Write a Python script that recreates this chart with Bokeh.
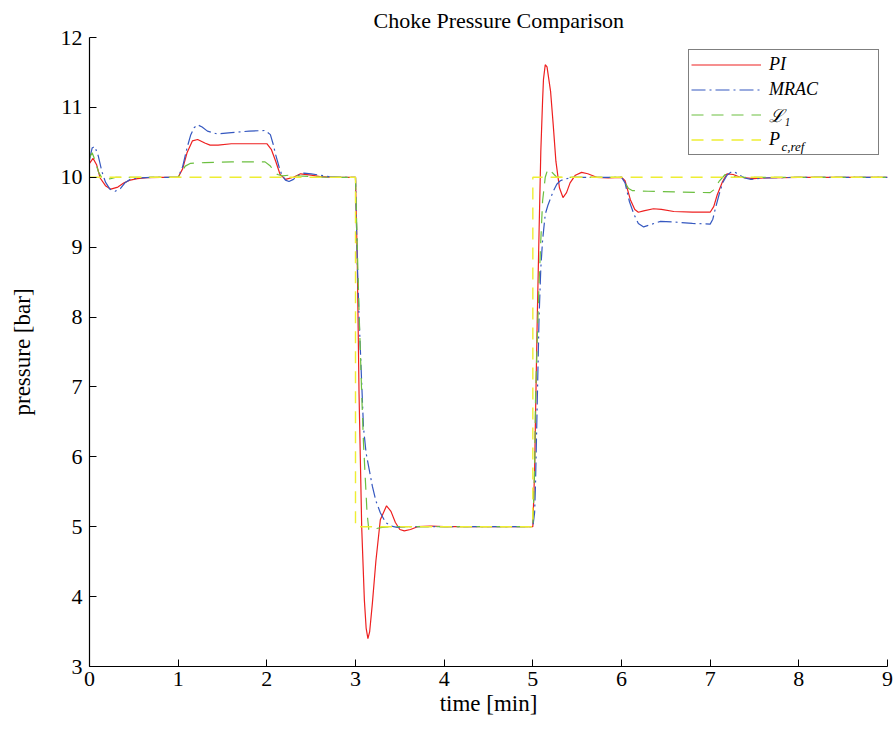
from bokeh.plotting import figure
from bokeh.models import Legend, LegendItem, Label, Range1d, FixedTicker
from bokeh.embed import file_html
from bokeh.resources import INLINE

# ---- data ----
pi_t = [0, 0.04, 0.08, 0.12, 0.18, 0.24, 0.32, 0.39, 0.46, 0.54, 0.65, 0.8, 1.0,
        1.05, 1.10, 1.16, 1.22, 1.30, 1.36, 1.45, 1.6, 1.74, 1.9, 2.0, 2.05, 2.10,
        2.15, 2.21, 2.3, 2.38, 2.5, 2.6, 2.75, 3.0, 3.02, 3.04, 3.07, 3.10, 3.12,
        3.14, 3.16, 3.19, 3.23, 3.28, 3.35, 3.40, 3.45, 3.50, 3.55, 3.62, 3.70,
        3.85, 4.0, 5.0, 5.02, 5.03, 5.05, 5.07, 5.09, 5.11, 5.12, 5.14, 5.16, 5.20,
        5.23, 5.26, 5.30, 5.34, 5.38, 5.42, 5.48, 5.55, 5.62, 5.72, 5.85, 6.0,
        6.04, 6.10, 6.15, 6.19, 6.25, 6.36, 6.45, 6.59, 6.8, 7.0, 7.04, 7.08, 7.14,
        7.19, 7.26, 7.34, 7.49, 7.6, 8.0, 9.0]
pi_v = [10.20, 10.27, 10.18, 9.99, 9.88, 9.83, 9.86, 9.92, 9.96, 9.98, 9.995, 10.0, 10.0,
        10.12, 10.35, 10.52, 10.54, 10.49, 10.46, 10.46, 10.48, 10.48, 10.48, 10.48, 10.40, 10.23,
        10.04, 9.97, 10.0, 10.05, 10.03, 10.01, 10.0, 10.0, 8.8, 6.9, 4.99, 3.95, 3.55,
        3.40, 3.50, 3.90, 4.51, 5.10, 5.30, 5.22, 5.06, 4.96, 4.94, 4.96, 5.0,
        5.01, 5.0, 5.0, 5.8, 6.56, 7.99, 9.2, 10.37, 11.1, 11.4, 11.61, 11.58, 11.23,
        10.75, 10.23, 9.85, 9.71, 9.78, 9.92, 10.03, 10.07, 10.05, 10.0, 9.99, 10.0,
        9.95, 9.68, 9.54, 9.50, 9.52, 9.55, 9.54, 9.51, 9.50, 9.50, 9.58, 9.75, 9.94,
        10.05, 10.04, 10.0, 9.98, 9.99, 10.0, 10.0]

mrac_t = [0, 0.03, 0.06, 0.10, 0.14, 0.18, 0.23, 0.29, 0.35, 0.40, 0.46, 0.55, 0.7, 1.0,
          1.05, 1.10, 1.14, 1.18, 1.22, 1.27, 1.33, 1.44, 1.6, 1.8, 1.98, 2.04, 2.07,
          2.10, 2.14, 2.17, 2.21, 2.25, 2.30, 2.36, 2.42, 2.5, 2.6, 2.7, 2.85, 3.0,
          3.02, 3.04, 3.06, 3.09, 3.12, 3.15, 3.19, 3.23, 3.28, 3.34, 3.40, 3.47, 3.6,
          5.0, 5.02, 5.03, 5.05, 5.07, 5.09, 5.11, 5.14, 5.17, 5.20, 5.23, 5.27, 5.31,
          5.35, 5.45, 6.0, 6.04, 6.09, 6.14, 6.19, 6.25, 6.32, 6.44, 6.6, 6.8, 7.0,
          7.03, 7.06, 7.10, 7.14, 7.19, 7.23, 7.27, 7.32, 7.39, 7.46, 7.6, 8.0, 9.0]
mrac_v = [10.25, 10.42, 10.44, 10.30, 10.08, 9.93, 9.83, 9.80, 9.84, 9.92, 9.97, 9.99, 10.0, 10.0,
          10.15, 10.42, 10.60, 10.71, 10.75, 10.72, 10.66, 10.62, 10.64, 10.66, 10.67, 10.61, 10.48,
          10.32, 10.14, 10.03, 9.96, 9.94, 9.97, 10.03, 10.06, 10.05, 10.03, 10.01, 10.0, 10.0,
          8.8, 8.0, 7.37, 6.42, 6.05, 5.85, 5.58, 5.37, 5.20, 5.06, 5.01, 4.99, 5.0,
          5.0, 5.2, 5.61, 6.8, 7.99, 8.70, 9.1, 9.47, 9.60, 9.70, 9.80, 9.90, 9.95,
          9.97, 10.0, 10.0, 9.92, 9.65, 9.47, 9.34, 9.29, 9.32, 9.37, 9.36, 9.34, 9.33,
          9.40, 9.56, 9.75, 9.92, 10.03, 10.07, 10.08, 10.04, 9.99, 9.97, 9.99, 10.0, 10.0]

l1_t = [0, 0.03, 0.06, 0.10, 0.14, 0.18, 0.24, 0.3, 1.0, 1.04, 1.08, 1.14, 1.3, 1.6, 1.98,
        2.04, 2.08, 2.12, 2.18, 2.25, 2.35, 2.5, 2.7, 3.0, 3.02, 3.04, 3.07, 3.09, 3.11,
        3.13, 3.15, 3.18, 3.22, 3.3, 3.4, 5.0, 5.02, 5.03, 5.05, 5.07, 5.09, 5.11, 5.14,
        5.17, 5.21, 5.27, 5.4, 6.0, 6.04, 6.08, 6.12, 6.3, 6.6, 7.0, 7.04, 7.10, 7.17,
        7.22, 7.3, 9.0]
l1_v = [10.28, 10.35, 10.25, 10.08, 9.99, 9.97, 9.98, 10.0, 10.0, 10.08, 10.16, 10.20, 10.21, 10.22, 10.22,
        10.16, 10.09, 10.04, 10.02, 10.03, 10.02, 10.01, 10.0, 10.0, 9.0, 8.09, 6.9, 6.2, 5.70,
        5.2, 4.96, 4.95, 4.97, 4.99, 5.0, 5.0, 5.8, 6.8, 7.7, 8.47, 9.1, 9.66, 10.0,
        10.12, 10.08, 10.0, 10.0, 10.0, 9.92, 9.84, 9.81, 9.80, 9.79, 9.78, 9.82, 9.94, 10.04,
        10.03, 10.0, 10.0]

ref_t = [0, 3, 3, 5, 5, 9]
ref_v = [10, 10, 5, 5, 10, 10]

x_ticks = [0, 1, 2, 3, 4, 5, 6, 7, 8, 9]
y_ticks = [3, 4, 5, 6, 7, 8, 9, 10, 11, 12]

SERIF = "Liberation Serif"

p = figure(width=896, height=729, x_range=Range1d(0, 9), y_range=Range1d(3, 12),
           output_backend="svg", toolbar_location=None,
           min_border_left=89, min_border_right=9, min_border_top=36, min_border_bottom=63,
           title="Choke Pressure Comparison")
p.outline_line_color = None
p.grid.visible = False
p.background_fill_color = "white"
p.border_fill_color = "white"

p.title.align = "left"
p.title.offset = 284
p.title.text_font = SERIF
p.title.text_font_size = "22px"
p.title.text_font_style = "normal"
p.title.text_color = "black"

for ax in (p.xaxis[0], p.yaxis[0]):
    ax.major_tick_in = 7
    ax.major_tick_out = 0
    ax.minor_tick_in = 0
    ax.minor_tick_out = 0
    ax.axis_line_color = "black"
    ax.axis_line_width = 1.2
    ax.major_tick_line_color = "black"
    ax.major_label_text_font = SERIF
    ax.major_label_text_font_size = "22px"
    ax.major_label_text_color = "black"
    ax.axis_label_text_font = SERIF
    ax.axis_label_text_font_size = "23px"
    ax.axis_label_text_font_style = "normal"
    ax.axis_label_text_color = "black"

p.xaxis.ticker = FixedTicker(ticks=x_ticks)
p.yaxis.ticker = FixedTicker(ticks=y_ticks)
p.xaxis.axis_label = "time [min]"
p.yaxis.axis_label = "pressure [bar]"
p.xaxis.major_label_standoff = 5
p.yaxis.major_label_standoff = 7
p.xaxis.axis_label_standoff = 2
p.yaxis.axis_label_standoff = 23

r_pi = p.line(pi_t, pi_v, line_color="#ee2020", line_width=1.2)
r_mrac = p.line(mrac_t, mrac_v, line_color="#3558c0", line_width=1.2, line_dash="14 4 2 4")
r_l1 = p.line(l1_t, l1_v, line_color="#6cbf40", line_width=1.2, line_dash="12 8")
r_ref = p.line(ref_t, ref_v, line_color="#eeee33", line_width=1.4, line_dash="12 8")

legend = Legend(items=[LegendItem(label="PI", renderers=[r_pi]),
                       LegendItem(label="MRAC", renderers=[r_mrac]),
                       LegendItem(label="ℒ₁", renderers=[r_l1]),
                       LegendItem(label="P", renderers=[r_ref])],
                location=(599, 511), margin=0, padding=2, spacing=0,
                glyph_width=70, glyph_height=25, label_height=25, label_width=107,
                label_standoff=8, border_line_color="black", border_line_width=1.5,
                background_fill_alpha=0.0,
                label_text_font=SERIF, label_text_font_style="italic",
                label_text_font_size="18px", label_text_color="black")
p.add_layout(legend)

sub = Label(x=692, y=520, x_units="screen", y_units="screen", text="c,ref",
            text_font=SERIF, text_font_style="italic", text_font_size="13px",
            text_color="black", text_baseline="alphabetic", level="overlay")
p.add_layout(sub)

open("out.html", "w").write(file_html(p, INLINE))
